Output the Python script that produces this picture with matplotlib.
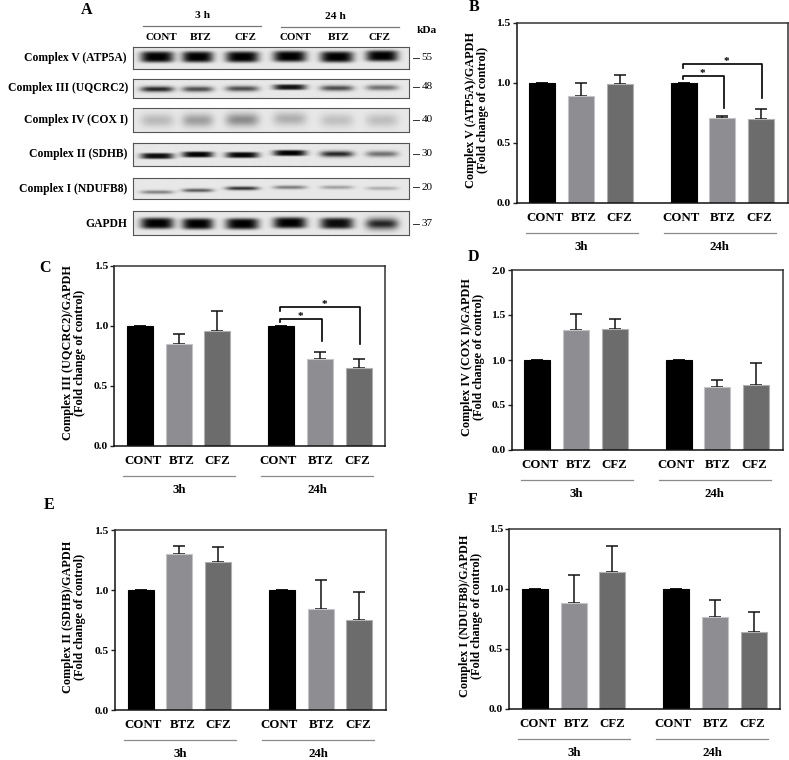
import numpy as np
import matplotlib
matplotlib.use("Agg")
import matplotlib.pyplot as plt

plt.rcParams['font.family'] = ['Liberation Serif', 'DejaVu Serif']
plt.rcParams['font.weight'] = 'bold'

W, H = 789, 760

# bar panel data
groups = ["CONT", "BTZ", "CFZ", "CONT", "BTZ", "CFZ"]
bar_x = [0, 1, 2, 3.66, 4.66, 5.66]
label_x = [0.07, 1.08, 2.0, 3.58, 4.68, 5.62]
bar_colors = ["#000000", "#8e8d92", "#6c6c6c", "#000000", "#8e8d92", "#6c6c6c"]
edge_colors = ["#000000", "#c4c4c6", "#b0b0b0", "#000000", "#c4c4c6", "#b0b0b0"]

vals_b = [1.0, 0.89, 0.99, 1.0, 0.71, 0.70]
tops_b = [1.0, 1.0, 1.07, 1.0, 0.725, 0.78]
vals_c = [1.0, 0.85, 0.96, 1.0, 0.72, 0.65]
tops_c = [1.0, 0.93, 1.12, 1.0, 0.78, 0.72]
vals_d = [1.0, 1.33, 1.345, 1.0, 0.70, 0.72]
tops_d = [1.0, 1.51, 1.46, 1.0, 0.78, 0.97]
vals_e = [1.0, 1.30, 1.23, 1.0, 0.84, 0.75]
tops_e = [1.0, 1.365, 1.355, 1.0, 1.085, 0.98]
vals_f = [1.0, 0.885, 1.145, 1.0, 0.77, 0.64]
tops_f = [1.0, 1.12, 1.355, 1.0, 0.91, 0.81]

ylabel_b = "Complex V (ATP5A)/GAPDH\n(Fold change of control)"
ylabel_c = "Complex III (UQCRC2)/GAPDH\n(Fold change of control)"
ylabel_d = "Complex IV (COX I)/GAPDH\n(Fold change of control)"
ylabel_e = "Complex II (SDHB)/GAPDH\n(Fold change of control)"
ylabel_f = "Complex I (NDUFB8)/GAPDH\n(Fold change of control)"

# blot data, one row per protein, darkness of each lane
blot_names = ["Complex V (ATP5A)", "Complex III (UQCRC2)", "Complex IV (COX I)",
              "Complex II (SDHB)", "Complex I (NDUFB8)", "GAPDH"]
blot_kda = ["55", "48", "40", "30", "20", "37"]
blot_dark = [[1.0, 1.0, 1.0, 1.0, 1.0, 1.0],
             [0.85, 0.68, 0.68, 0.92, 0.68, 0.52],
             [0.20, 0.32, 0.40, 0.25, 0.17, 0.18],
             [0.95, 1.0, 0.98, 1.0, 0.85, 0.52],
             [0.45, 0.62, 0.82, 0.48, 0.32, 0.26],
             [1.0, 1.0, 1.0, 1.0, 0.95, 0.85]]
blot_y = [[10.7, 10.7, 10.7, 10.2, 10.7, 9.7],
          [10, 10, 9.5, 8, 9, 8.5],
          [12, 12, 11.5, 10.5, 12, 12],
          [13, 11.5, 12, 10, 11, 11],
          [14.7, 13, 11, 10, 10, 11],
          [12, 12.5, 12.5, 11.5, 12, 12.5]]
blot_hh = [5.5, 2.8, 6.5, 3.0, 1.8, 5.5]
lane_x = [24, 64.5, 109, 156.5, 203.5, 248.5]
lane_hw = [16.5, 15.5, 16.5, 16.5, 16.5, 16]


def add_axes_px(x0, y0, x1, y1):
    return fig.add_axes([x0 / W, 1 - y1 / H, (x1 - x0) / W, (y1 - y0) / H])


def put(x, y, s, **kw):
    kw.setdefault('ha', 'center')
    kw.setdefault('va', 'center')
    fig.text(x / W, 1 - y / H, s, **kw)


def hline_px(x0, x1, y, color, lw=0.9):
    fig.add_artist(plt.Line2D([x0 / W, x1 / W], [1 - y / H, 1 - y / H], color=color, lw=lw))


def bar_panel(left, top, vals, tops, ylabel, ymax, yticks, ylab_x, letter, letter_xy):
    right = left + 271
    bottom = top + 180
    ax = add_axes_px(left, top, right, bottom)
    errs = [t - v for t, v in zip(tops, vals)]
    ax.errorbar(bar_x, vals, yerr=[[0] * 6, errs], fmt='none', ecolor='#111111',
                elinewidth=1.1, capsize=4.6, capthick=1.1, zorder=1)
    ax.bar(bar_x, vals, width=0.67, color=bar_colors, edgecolor=edge_colors, linewidth=0.8, zorder=2)
    ax.set_xlim(-0.665, 6.35)
    ax.set_ylim(0, ymax)
    ax.set_xticks([])
    ax.set_yticks(yticks)
    ax.set_yticklabels(["%.1f" % t for t in yticks], fontsize=8.2, fontweight='bold')
    ax.tick_params(axis='y', length=3, width=1, pad=1.5, color='#222222')
    for s in ax.spines.values():
        s.set_linewidth(1.1)
        s.set_color('#333333')
    ax.spines['left'].set_color('#111111')
    ax.spines['bottom'].set_color('#111111')
    for x, name in zip(label_x, groups):
        ax.annotate(name, (x, 0), xytext=(0, -15 * 0.72), textcoords='offset points',
                    ha='center', va='center', fontsize=9.3, fontweight='bold')
    hline_px(left + 9, left + 121, bottom + 30, '#8a8a8a')
    hline_px(left + 147, left + 259, bottom + 30, '#8a8a8a')
    put(left + 65, bottom + 44, "3h", fontsize=9.3)
    put(left + 203, bottom + 44, "24h", fontsize=9.3)
    put(ylab_x, (top + bottom) / 2 - 3, ylabel, rotation=90, fontsize=8.8, linespacing=1.0)
    put(letter_xy[0], letter_xy[1], letter, fontsize=11.5)
    return ax


def brackets(ax, y_low, end_low, y_up, end_up):
    x0 = 3.63
    ax.plot([x0, x0, 4.70, 4.70], [y_low - 0.022, y_low, y_low, end_low], color='#000000', lw=1.2, zorder=3)
    ax.plot([x0, x0, 5.69, 5.69], [y_up - 0.03, y_up, y_up, end_up], color='#000000', lw=1.2, zorder=3)
    ax.text(4.15, y_low + 0.02, "*", ha='center', va='center', fontsize=8)
    ax.text(4.77, y_up + 0.02, "*", ha='center', va='center', fontsize=8)


fig = plt.figure(figsize=(W / 100, H / 100), dpi=100)

# panel A, the blots
put(87, 10, "A", fontsize=11.5)
put(202.7, 15.7, "3 h", fontsize=8.2)
put(335.7, 16.7, "24 h", fontsize=8.2)
hline_px(142.7, 260.7, 26, '#777777')
hline_px(280.7, 399, 27, '#777777')
for x, name in zip([161, 201, 245, 295.7, 338.7, 379.3], groups):
    put(x, 37.7, name, fontsize=7.9)
put(426.7, 30.7, "kDa", fontsize=8.2)

blot_top = [46.7, 79.3, 108.3, 142.7, 178, 211.3]
blot_bot = [69.3, 98, 131.7, 165.7, 199.3, 234.7]
blot_lab_r = [126, 128, 128, 127, 127, 127]
blot_lab_y = [57.7, 88, 120, 154, 189, 224]
blot_kda_y = [57.7, 86.7, 120, 154, 187, 224]
for i in range(6):
    ax = add_axes_px(132.7, blot_top[i], 409, blot_bot[i])
    h = blot_bot[i] - blot_top[i]
    xx, yy = np.meshgrid(np.linspace(0, 276.3, 830), np.linspace(0, h, int(h * 3)))
    img = np.zeros_like(xx)
    for j in range(6):
        dx = (xx - lane_x[j]) / lane_hw[j]
        dy = (yy - blot_y[i][j]) / blot_hh[i]
        img += blot_dark[i][j] * np.exp(-dx ** 4) * np.exp(-dy ** 4 if blot_dark[i][j] > 0.9 else -dy ** 2)
    img = 0.91 - 0.91 * np.clip(img, 0, 1)
    ax.imshow(img, cmap='gray', vmin=0, vmax=1, aspect='auto', interpolation='bilinear')
    ax.set_xticks([])
    ax.set_yticks([])
    for s in ax.spines.values():
        s.set_linewidth(0.8)
        s.set_color('#555555')
    put(blot_lab_r[i], blot_lab_y[i], blot_names[i], ha='right', fontsize=8.4)
    hline_px(412.5, 418.5, blot_kda_y[i], '#333333', lw=0.7)
    put(427, blot_kda_y[i], blot_kda[i], fontsize=8, fontweight='normal')

# bar panels
t15 = [0.0, 0.5, 1.0, 1.5]
t20 = [0.0, 0.5, 1.0, 1.5, 2.0]
ax_b = bar_panel(516.7, 23, vals_b, tops_b, ylabel_b, 1.5, t15, 477, "B", (474, 7))
ax_c = bar_panel(114.3, 265.7, vals_c, tops_c, ylabel_c, 1.5, t15, 74, "C", (45, 268))
ax_d = bar_panel(511.7, 270, vals_d, tops_d, ylabel_d, 2.0, t20, 473, "D", (473, 257))
ax_e = bar_panel(115, 530, vals_e, tops_e, ylabel_e, 1.5, t15, 74, "E", (49, 505))
ax_f = bar_panel(509.3, 529, vals_f, tops_f, ylabel_f, 1.5, t15, 471, "F", (473, 500))

brackets(ax_b, 1.058, 0.79, 1.158, 0.875)
brackets(ax_c, 1.056, 0.875, 1.153, 0.847)

fig.savefig("out.png", dpi=100)
